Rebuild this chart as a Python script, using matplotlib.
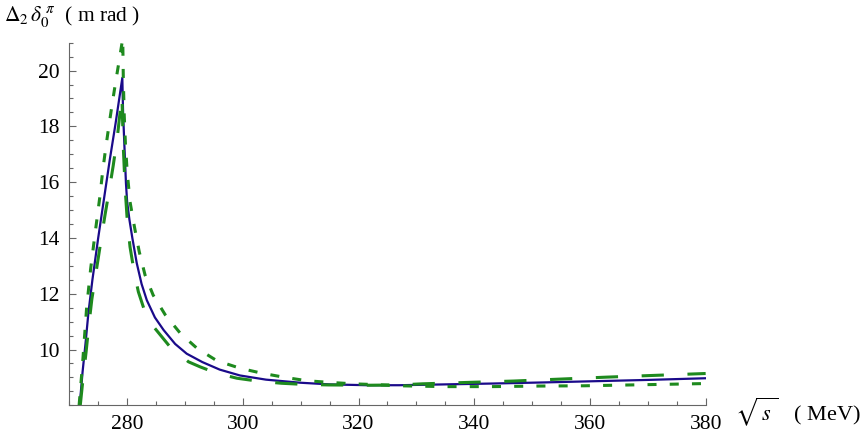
import matplotlib
matplotlib.use('Agg')
import matplotlib.pyplot as plt
from matplotlib.ticker import MultipleLocator

plt.rcParams['font.family'] = ['Liberation Serif', 'DejaVu Serif']
plt.rcParams['mathtext.fontset'] = 'stix'
plt.rcParams['lines.scale_dashes'] = False

# curva continua (azul)
x_solid = [271.8, 272.3, 272.8, 273.3, 274.0, 275.0, 276.0, 277.0, 278.0, 279.17,
           279.3, 279.55, 279.8, 280.0, 280.4, 280.9, 281.66, 282.5, 283.4, 284.8,
           286.3, 288.3, 290.3, 293.0, 296.0, 299.5, 304.0, 309.9, 315.0, 321.5,
           327.0, 335.0, 343.0, 352.0, 360.0, 370.0, 380.0]
y_solid = [8.0, 9.2, 10.2, 11.3, 12.5, 14.0, 15.4, 16.8, 18.1, 19.74,
           18.5, 17.2, 15.95, 15.3, 14.65, 14.0, 13.1, 12.35, 11.77, 11.15,
           10.70, 10.2, 9.85, 9.55, 9.28, 9.07, 8.92, 8.81, 8.75, 8.72,
           8.72, 8.75, 8.78, 8.82, 8.86, 8.91, 8.97]

# guiones cortos (verde)
x_short = [271.7, 272.3, 273.0, 273.7, 274.3, 274.8, 275.3, 275.75, 276.25, 276.8,
           277.45, 278.1, 278.7, 279.24, 279.35, 279.5, 279.7, 280.0, 280.5, 281.0,
           281.37, 282.1, 283.1, 284.5, 286.6, 289.2, 292.1, 295.5, 299.5, 303.3,
           307.3, 311.1, 315.1, 319.1, 323.2, 327.0, 335.0, 343.0, 351.0, 359.0,
           367.0, 375.0, 380.0]
y_short = [8.0, 9.5, 11.5, 12.9, 13.9, 14.7, 15.5, 16.35, 17.15, 17.95,
           18.85, 19.7, 20.45, 21.15, 19.6, 18.4, 17.4, 16.4, 15.3, 14.7,
           14.28, 13.5, 12.67, 11.95, 11.24, 10.58, 10.04, 9.6, 9.33, 9.15,
           9.0, 8.88, 8.82, 8.77, 8.74, 8.70, 8.67, 8.67, 8.69, 8.70,
           8.73, 8.76, 8.78]

# guiones largos (verde)
x_long = [271.9, 272.4, 272.9, 273.4, 273.9, 274.5, 275.1, 275.7, 276.2, 276.9,
          277.6, 278.3, 279.1, 279.35, 279.65, 280.0, 280.5, 281.2, 281.94, 283.0,
          284.8, 287.4, 290.6, 292.6, 295.5, 299.0, 302.5, 306.7, 310.5, 314.8,
          322.0, 327.0, 331.0, 338.8, 346.8, 354.9, 362.9, 370.8, 380.0]
y_long = [8.0, 9.0, 9.9, 10.9, 11.8, 12.6, 13.4, 14.2, 14.85, 15.7,
          16.6, 17.6, 19.1, 17.2, 15.8, 14.7, 13.68, 12.8, 12.07, 11.4,
          10.76, 10.1, 9.56, 9.38, 9.15, 8.97, 8.87, 8.79, 8.75, 8.73,
          8.72, 8.73, 8.77, 8.82, 8.87, 8.94, 9.01, 9.07, 9.14]

fig = plt.figure(figsize=(8.67, 4.36), dpi=100)
ax = fig.add_axes([0.0799, 0.0704, 0.734, 0.8317])

verde = '#1e8a1e'
ax.plot(x_solid, y_solid, color='#1a0a8a', lw=1.6)
ax.plot(x_short, y_short, color=verde, lw=2.2, linestyle=(0, (6.5, 9.5)))
ax.plot(x_long, y_long, color=verde, lw=2.2, linestyle=(0, (16, 17)))

ax.set_xlim(270, 380)
ax.set_ylim(8, 21)
ax.xaxis.set_major_locator(MultipleLocator(20))
ax.xaxis.set_minor_locator(MultipleLocator(5))
ax.yaxis.set_major_locator(MultipleLocator(2))
ax.yaxis.set_minor_locator(MultipleLocator(0.5))

for lado in ['top', 'right']:
    ax.spines[lado].set_visible(False)
for lado in ['left', 'bottom']:
    ax.spines[lado].set_color('#666666')
    ax.spines[lado].set_linewidth(0.8)

ax.tick_params(which='both', direction='in', color='#666666', width=0.8, labelsize=15.5)
ax.tick_params(which='major', length=5)
ax.tick_params(which='minor', length=3)
ax.tick_params(axis='y', pad=7)
ax.tick_params(axis='x', pad=7)
ax.set_yticks([10, 12, 14, 16, 18, 20])

fig.text(0.005, 0.962, r'$\Delta_2\,\delta_0^{\,\pi}$  ( m rad )', fontsize=15.5, va='center', ha='left')
fig.text(0.848, 0.055, r'$\sqrt{\,s\;}$   ( MeV)', fontsize=16, va='center', ha='left')

fig.savefig('out.png', dpi=100)
